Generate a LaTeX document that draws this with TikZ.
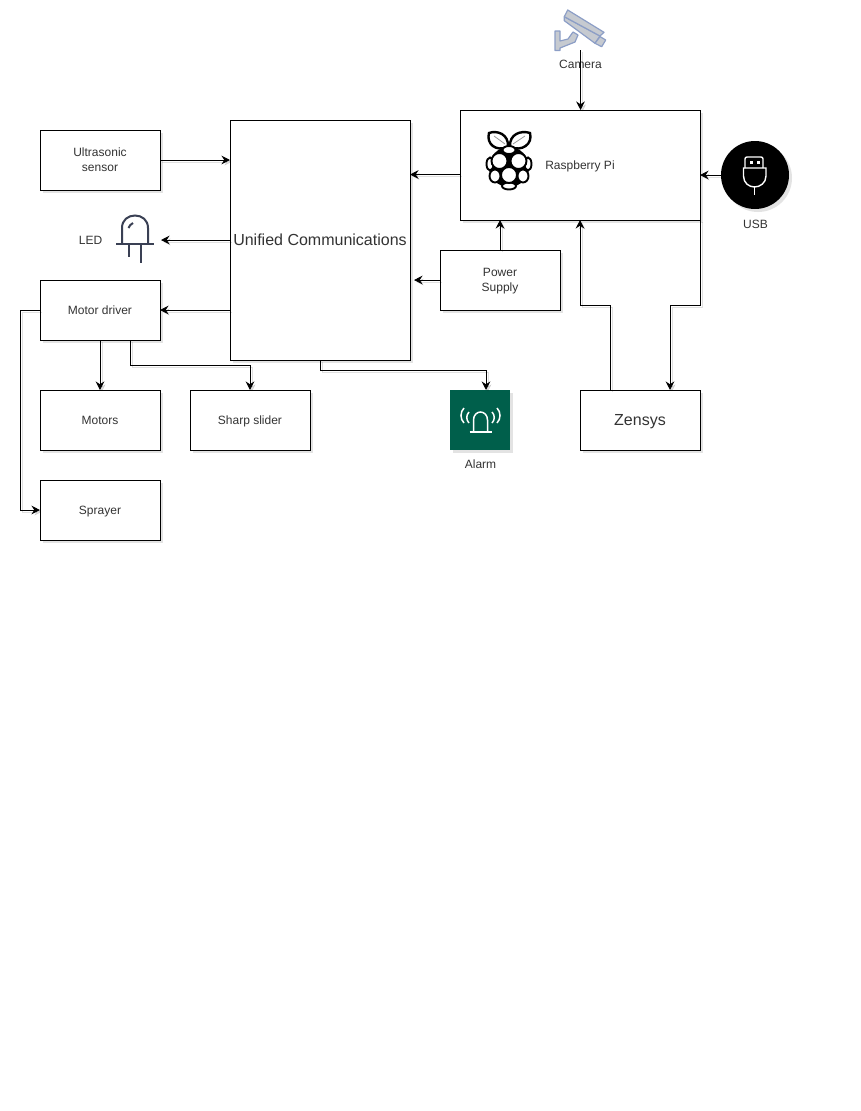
\documentclass[tikz,border=0pt]{standalone}
\usepackage{fontspec}
\setmainfont{Liberation Sans}
\usetikzlibrary{arrows.meta, shadows}

\definecolor{alarmgreen}{RGB}{0,95,75}
\definecolor{ledgrey}{RGB}{58,64,84}
\definecolor{camedge}{RGB}{140,158,198}
\definecolor{camfill}{RGB}{198,202,208}

\tikzset{
  unit/.style={draw, fill=white, line width=1pt, outer sep=0pt, inner sep=0pt,
    minimum width=120pt, minimum height=60pt, align=center, text=black!80,
    text depth=0pt, font=\fontsize{12}{15}\selectfont,
    drop shadow={shadow xshift=3pt, shadow yshift=-3pt, opacity=0.22}},
  caption/.style={text=black!80, inner sep=0pt, text depth=0pt,
    font=\fontsize{12}{15}\selectfont},
  bigtext/.style={font=\fontsize{16}{19}\selectfont},
  wire/.style={->, line width=1pt,
    preaction={draw=black, opacity=0.12, transform canvas={xshift=2pt, yshift=-2pt}}},
}

\begin{document}
\begin{tikzpicture}[x=1pt, y=-1pt, >={Stealth[length=8.5pt, width=8.5pt]}]
  \useasboundingbox (0,0) rectangle (861,1111);

  % blocks
  \node[unit] (ultrasonic) at (100,160) {Ultrasonic\\sensor};
  \node[unit, minimum width=180pt, minimum height=240pt, bigtext] (unified) at (320,240)
    {Unified Communications};
  \node[unit, minimum width=240pt, minimum height=110pt] (raspi) at (580,165) {};
  \node[caption] (raspilabel) at (580,165) {Raspberry Pi};
  \node[unit] (power) at (500,280) {Power\\ Supply};
  \node[unit] (driver) at (100,310) {Motor driver};
  \node[unit] (motors) at (100,420) {Motors};
  \node[unit] (slider) at (250,420) {Sharp slider};
  \node[unit] (sprayer) at (100,510) {Sprayer};
  \node[unit, bigtext] (zensys) at (640,420) {Zensys};
  \node[unit, draw=none, fill=alarmgreen, minimum width=60pt] (alarm) at (480,420) {};
  \node[circle, fill=black, minimum size=68pt, inner sep=0pt, outer sep=0pt,
    drop shadow={shadow xshift=3pt, shadow yshift=-3pt, opacity=0.22}] (usb) at (755,175) {};

  % captions
  \node[caption] (cameralabel) at (580.5,64) {Camera};
  \node[caption] (usblabel) at (755.5,224) {USB};
  \node[caption] (alarmlabel) at (480.5,464) {Alarm};
  \node[caption] (ledlabel) at (90.5,240) {LED};

  % camera icon
  \coordinate (camerafoot) at (580.5,50);
  \begin{scope}[draw=camedge, fill=camfill, line width=1.2pt, line join=round]
    \filldraw (555,31) -- (560,31) -- (560,41) -- (568,39) -- (573,32) -- (578,35)
      -- (575,42) -- (560,48) -- (560,50.5) -- (555,50.5) -- cycle;
    \filldraw (564.3,16.7) -- (564.3,20.7) -- (595,43.3) -- (600,36) -- cycle;
    \filldraw (600,36.6) -- (605.7,40) -- (601.7,46.7) -- (595,43.3) -- cycle;
    \filldraw (567.7,10) -- (604,32.3) -- (600,36) -- (564.3,16.7) -- cycle;
  \end{scope}

  % raspberry logo
  \fill[black] (509,167) ellipse (20pt and 20pt);
  \begin{scope}[line width=1.9pt, fill=white, draw=black]
    \filldraw[line width=2.4pt] (508,147) .. controls (509,134) and (497,130) .. (489,133)
      .. controls (486,144) and (496,152) .. (508,147) -- cycle;
    \filldraw[line width=2.4pt] (510,147) .. controls (509,134) and (521,130) .. (530,133)
      .. controls (533,144) and (522,152) .. (510,147) -- cycle;
    \draw[black!40, line width=0.8pt] (494,136) -- (505,144);
    \draw[black!40, line width=0.8pt] (525,136) -- (513,144);
    \filldraw (490,164) ellipse (3.5pt and 6.5pt);
    \filldraw (528,164) ellipse (3.5pt and 6.5pt);
    \filldraw (495,176) ellipse (5.5pt and 6.5pt);
    \filldraw (523,176) ellipse (5.5pt and 6.5pt);
    \filldraw (509,186) ellipse (7pt and 3.5pt);
    \filldraw (509,150) ellipse (6.5pt and 4pt);
    \filldraw (499.5,161) circle (8pt);
    \filldraw (518.5,161) circle (8pt);
    \filldraw (509,175) circle (8pt);
  \end{scope}

  % usb icon
  \begin{scope}[draw=white, line width=1.4pt]
    \draw[rounded corners=2pt] (745,168) -- (745,157) -- (763,157) -- (763,168);
    \draw (743.5,168) -- (766,168) -- (766,176)
      .. controls (766,183) and (760,187) .. (754.5,187)
      .. controls (749,187) and (743.5,183) .. (743.5,176) -- cycle;
    \draw (754.5,187) -- (754.5,195);
    \fill[white] (750,160.5) rectangle (753,163.5);
    \fill[white] (756.5,160.5) rectangle (759.5,163.5);
  \end{scope}

  % led icon
  \coordinate (ledtip) at (161,240);
  \begin{scope}[draw=ledgrey, line width=2pt]
    \draw (122,244) -- (122,228) .. controls (122,220) and (128,215.5) .. (135,215.5)
      .. controls (142,215.5) and (148,220) .. (148,228) -- (148,244);
    \draw (116,244) -- (154,244);
    \draw (129,244) -- (129,257);
    \draw (140.5,244) -- (140.5,263);
    \draw (128.5,228) .. controls (129,226) and (131,224) .. (133,223);
  \end{scope}

  % alarm icon
  \begin{scope}[draw=white, line width=1.5pt]
    \draw (469.5,432) -- (491.5,432);
    \draw (473.5,432) -- (473.5,420) .. controls (473.5,415) and (477,412) .. (480.5,412)
      .. controls (484,412) and (487.5,415) .. (487.5,420) -- (487.5,432);
    \draw (464,408) .. controls (460,412) and (460,419) .. (464,423);
    \draw (469,412) .. controls (466,415) and (466,420) .. (469,423);
    \draw (497,408) .. controls (501,412) and (501,419) .. (497,423);
    \draw (492,412) .. controls (495,415) and (495,420) .. (492,423);
  \end{scope}

  % connectors
  \draw[wire] (camerafoot) -- (camerafoot |- raspi.north);
  \draw[wire] (usb.west) -- (usb.west -| raspi.east);
  \draw[wire] (raspi.west |- 0,174.5) -- (unified.east |- 0,174.5);
  \draw[wire] (power.north) -- (power.north |- raspi.south);
  \draw[wire] (power.west) -- ([xshift=4pt]power.west -| unified.east);
  \draw[wire] (ultrasonic.east) -- (ultrasonic.east -| unified.west);
  \draw[wire] (unified.west) -- (ledtip);
  \draw[wire] (driver.east -| unified.west) -- (driver.east);
  \draw[wire] (driver.south) -- (motors.north);
  \draw[wire] ([xshift=30pt]driver.south) |- (250,365) -- (slider.north);
  \draw[wire] (driver.west) -- (20,310) |- (sprayer.west);
  \draw[wire] (unified.south) |- (486,370) -- ([xshift=6pt]alarm.north);
  \draw[wire] ([xshift=-30pt]zensys.north) |- (580,305) -- (580,220);
  \draw[wire] (raspi.south east) |- (670,305) -- ([xshift=30pt]zensys.north);
\end{tikzpicture}
\end{document}
